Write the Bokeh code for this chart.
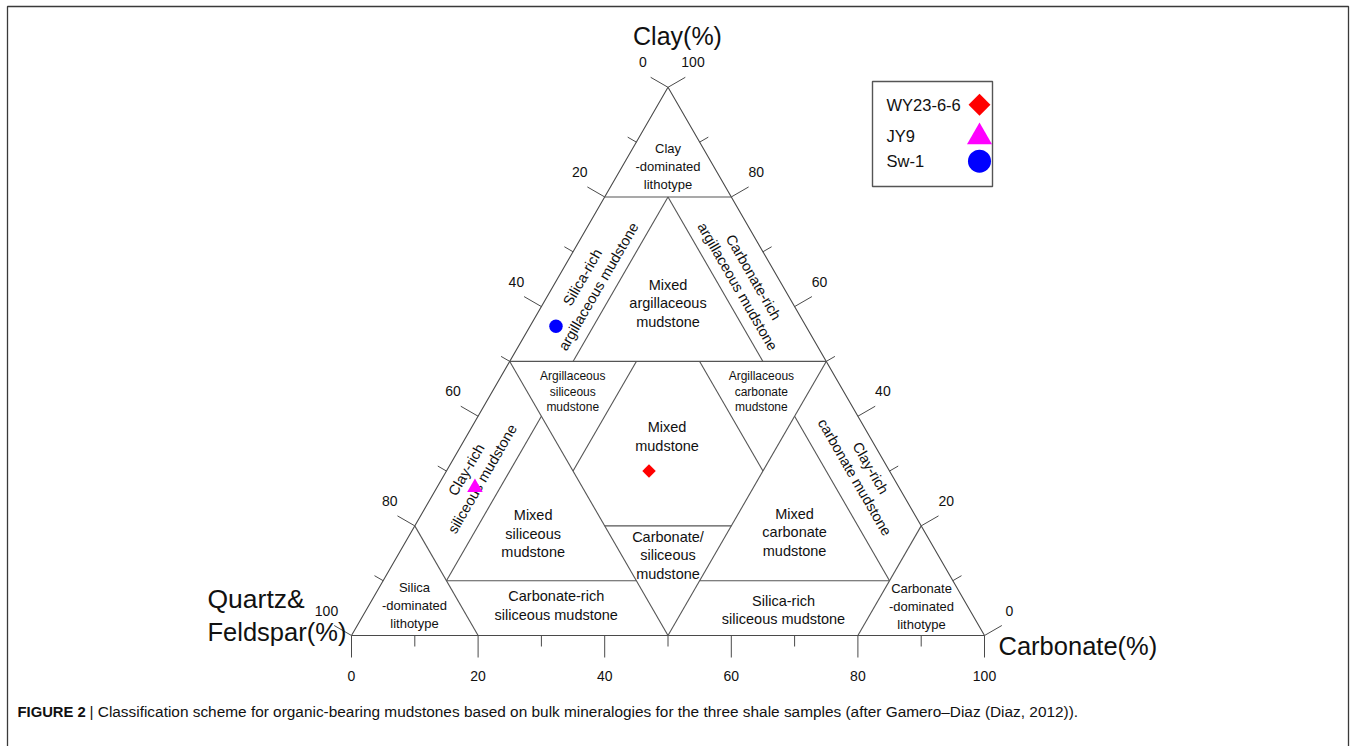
import math

from bokeh.core.properties import value
from bokeh.embed import file_html
from bokeh.models import ColumnDataSource, Range1d
from bokeh.plotting import figure
from bokeh.resources import INLINE

# ---------------------------------------------------------------- data
samples = ["WY23-6-6", "JY9", "Sw-1"]
quartz_feldspar = [38.0, 67.0, 39.5]   # wt %
clay = [30.0, 27.0, 56.4]              # wt %
carbonate = [32.0, 6.0, 4.1]           # wt %

tick_values = list(range(0, 101, 10))
label_values = [0, 20, 40, 60, 80, 100]
label_texts = ["0", "20", "40", "60", "80", "100"]

# Gamero-Diaz field boundaries, each segment given by two (Q, K, C) end points
boundaries = [
    ((20, 80, 0), (0, 80, 20)),     # clay-dominated corner
    ((80, 20, 0), (80, 0, 20)),     # silica-dominated corner
    ((0, 20, 80), (20, 0, 80)),     # carbonate-dominated corner
    ((50, 50, 0), (0, 50, 50)),     # clay 50 %
    ((50, 50, 0), (50, 0, 50)),     # quartz 50 %
    ((0, 50, 50), (50, 0, 50)),     # carbonate 50 %
    ((10, 80, 10), (40, 50, 10)),   # carbonate 10 % (argillaceous band)
    ((10, 80, 10), (10, 50, 40)),   # quartz 10 % (argillaceous band)
    ((50, 40, 10), (80, 10, 10)),   # carbonate 10 % (siliceous band)
    ((80, 10, 10), (50, 10, 40)),   # clay 10 % (siliceous band)
    ((10, 40, 50), (10, 10, 80)),   # quartz 10 % (carbonate band)
    ((40, 10, 50), (10, 10, 80)),   # clay 10 % (carbonate band)
    ((30, 50, 20), (50, 30, 20)),   # carbonate 20 % (central)
    ((20, 50, 30), (20, 30, 50)),   # quartz 20 % (central)
    ((50, 20, 30), (30, 20, 50)),   # clay 20 % (central)
]

field_names = [
    "Clay\n-dominated\nlithotype",
    "Silica-rich\nargillaceous mudstone",
    "Mixed\nargillaceous\nmudstone",
    "Carbonate-rich\nargillaceous mudstone",
    "Argillaceous\nsiliceous\nmudstone",
    "Argillaceous\ncarbonate\nmudstone",
    "Mixed\nmudstone",
    "Clay-rich\nsiliceous mudstone",
    "Mixed\nsiliceous\nmudstone",
    "Carbonate/\nsiliceous\nmudstone",
    "Mixed\ncarbonate\nmudstone",
    "Clay-rich\ncarbonate mudstone",
    "Silica\n-dominated\nlithotype",
    "Carbonate-rich\nsiliceous mudstone",
    "Silica-rich\nsiliceous mudstone",
    "Carbonate\n-dominated\nlithotype",
]

# ---------------------------------------------------------------- layout
PAGE_W, PAGE_H = 1356, 746
ORIGIN = (351.0, 635.0)   # page pixel of the 100 % quartz vertex
SIDE = 633.0              # triangle side in pixels
U = SIDE / 100.0          # pixels per percent
SQ3 = math.sqrt(3.0)
FONT = value("Liberation Sans")


def tern(q, k, c):
    s = q + k + c
    q, k, c = 100 * q / s, 100 * k / s, 100 * c / s
    return c + k / 2.0, k * SQ3 / 2.0


def page(px, py):
    return (px - ORIGIN[0]) / U, (ORIGIN[1] - py) / U


def shift(pt, dx, dy):
    # dx, dy in screen pixels (dy positive downwards)
    return pt[0] + dx / U, pt[1] - dy / U


# label anchors of the fields (Q, K, C) with rotation (deg) and text style
field_anchor = [
    (7.25, 85.5, 7.25), (30, 64.5, 5.5), (19.7, 60.6, 19.7), (5.5, 64.5, 30),
    (42.8, 44.5, 12.7), (13, 44.5, 42.5), (32, 36.3, 31.7), (65.9, 29.4, 4.7),
    (62, 18.6, 19.4), (42.7, 14.6, 42.7), (20.6, 18.8, 60.6), (4.4, 29.7, 65.9),
    (87.3, 5.5, 7.2), (64.9, 5.5, 29.6), (29.4, 4.7, 65.9), (7.3, 5.3, 87.4),
]
field_angle = [0, 60, 0, -60, 0, 0, 0, 60, 0, 0, 0, -60, 0, 0, 0, 0]
field_style = ["corner", "main", "main", "main", "small", "small", "main", "main",
               "main", "main", "main", "main", "corner", "main", "main", "corner"]
style_size = {"corner": "13px", "main": "14.5px", "small": "12px"}
style_lh = {"corner": 1.2, "main": 1.15, "small": 1.1}

p = figure(
    width=PAGE_W, height=PAGE_H,
    x_range=Range1d(-ORIGIN[0] / U, (PAGE_W - ORIGIN[0]) / U),
    y_range=Range1d(-(PAGE_H - ORIGIN[1]) / U, ORIGIN[1] / U),
    output_backend="svg", toolbar_location=None,
    x_axis_location=None, y_axis_location=None,
    min_border=0, outline_line_color=None,
    background_fill_color="white", border_fill_color="white",
)
p.grid.visible = False

# outer frame around chart and caption
fl, ft = page(7, 6)
fr, fb = page(1348, 770)
p.line([fl, fl, fr, fr], [fb, ft, ft, fb], line_color="#3a3a3a", line_width=1.3)

# triangle outline
corners = [tern(100, 0, 0), tern(0, 100, 0), tern(0, 0, 100), tern(100, 0, 0)]
p.line([c[0] for c in corners], [c[1] for c in corners], line_color="#4a4a4a", line_width=1.1)

# field boundaries
bx, by = [], []
for a, b in boundaries:
    pa, pb = tern(*a), tern(*b)
    bx.append([pa[0], pb[0]])
    by.append([pa[1], pb[1]])
p.multi_line(bx, by, line_color="#555555", line_width=1.1)

# ticks
x0, y0, x1, y1 = [], [], [], []
for v in tick_values:
    major = v % 20 == 0
    # carbonate axis along the base, ticks pointing down
    b = tern(100 - v, 0, v)
    e = shift(b, 0, 22 if major else 11)
    x0.append(b[0]); y0.append(b[1]); x1.append(e[0]); y1.append(e[1])
    # quartz & feldspar along the left side
    L = 20 if major else 10
    b = tern(v, 100 - v, 0)
    e = shift(b, -L * SQ3 / 2, -L / 2)
    x0.append(b[0]); y0.append(b[1]); x1.append(e[0]); y1.append(e[1])
    # clay along the right side
    b = tern(0, v, 100 - v)
    e = shift(b, L * SQ3 / 2, -L / 2)
    x0.append(b[0]); y0.append(b[1]); x1.append(e[0]); y1.append(e[1])
p.segment(x0, y0, x1, y1, line_color="#4a4a4a", line_width=1.0)

# tick labels
lx, ly, lt = [], [], []
for v, t in zip(label_values, label_texts):
    pt = shift(tern(100 - v, 0, v), 0, 40)
    lx.append(pt[0]); ly.append(pt[1]); lt.append(t)
    pt = shift(tern(v, 100 - v, 0), -25, -25)
    lx.append(pt[0]); ly.append(pt[1]); lt.append(t)
    pt = shift(tern(0, v, 100 - v), 25, -25)
    lx.append(pt[0]); ly.append(pt[1]); lt.append(t)
p.text(lx, ly, text=lt, text_align="center", text_baseline="middle",
       text_font=FONT, text_font_size="14px", text_color="#111111")

# axis titles
title_style = dict(text_baseline="middle", text_font=FONT, text_color="#111111")
tx, ty = page(677, 35)
p.text([tx], [ty], text=["Clay(%)"], text_align="center",
       text_font_size="25px", **title_style)
tx, ty = page(207, 598)
p.text([tx], [ty], text=["Quartz&"], text_align="left",
       text_font_size="26.5px", **title_style)
tx, ty = page(207, 631)
p.text([tx], [ty], text=["Feldspar(%)"], text_align="left",
       text_font_size="25.5px", **title_style)
tx, ty = page(998, 645)
p.text([tx], [ty], text=["Carbonate(%)"], text_align="left",
       text_font_size="25.5px", **title_style)

# field names
for style in ("corner", "main", "small"):
    idx = [i for i, s in enumerate(field_style) if s == style]
    pts = [tern(*field_anchor[i]) for i in idx]
    src = ColumnDataSource(dict(
        x=[pt[0] for pt in pts], y=[pt[1] for pt in pts],
        text=[field_names[i] for i in idx],
        angle=[math.radians(field_angle[i]) for i in idx],
    ))
    p.text("x", "y", text="text", angle="angle", source=src,
           text_align="center", text_baseline="middle",
           text_font=FONT, text_font_size=style_size[style],
           text_line_height=style_lh[style], text_color="#111111")

# samples
marker_kind = ["square", "triangle", "circle"]
marker_angle = [math.pi / 4, 0, 0]
marker_color = ["#ff0000", "#ff00ff", "#0000ff"]
plot_size = [9.5, 15.5, 13.5]
legend_size = [15.5, 25, 23]

pts = [tern(q, k, c) for q, k, c in zip(quartz_feldspar, clay, carbonate)]
p.scatter([pt[0] for pt in pts], [pt[1] for pt in pts], marker=marker_kind,
          angle=marker_angle, size=plot_size, fill_color=marker_color,
          line_color=marker_color, line_width=0)

# legend box
bl, bt = page(872, 81)
br, bb = page(992, 186)
p.quad(left=[bl], right=[br], top=[bt], bottom=[bb], fill_color="white",
       line_color="#555555", line_width=1.4)
text_rows = [104, 135, 160.5]
mark_rows = [104.3, 136.5, 160.7]
lg_t = [page(886, r) for r in text_rows]
lg_m = [page(979, r) for r in mark_rows]
p.text([pt[0] for pt in lg_t], [pt[1] for pt in lg_t], text=samples,
       text_align="left", text_baseline="middle", text_font=FONT,
       text_font_size="16.5px", text_color="#111111")
p.scatter([pt[0] for pt in lg_m], [pt[1] for pt in lg_m], marker=marker_kind,
          angle=marker_angle, size=legend_size, fill_color=marker_color,
          line_color=marker_color, line_width=0)

# caption
cx, cy = page(17, 711)
p.text([cx], [cy], text=["FIGURE 2"], text_align="left", text_baseline="middle",
       text_font=FONT, text_font_size="14.8px", text_font_style="bold",
       text_color="#111111")
cx, cy = page(89, 711)
p.text([cx], [cy],
       text=["| Classification scheme for organic-bearing mudstones based on bulk "
             "mineralogies for the three shale samples (after Gamero\u2013Diaz (Diaz, 2012))."],
       text_align="left", text_baseline="middle", text_font=FONT,
       text_font_size="15.4px", text_color="#111111")

open("out.html", "w").write(file_html(p, INLINE))
